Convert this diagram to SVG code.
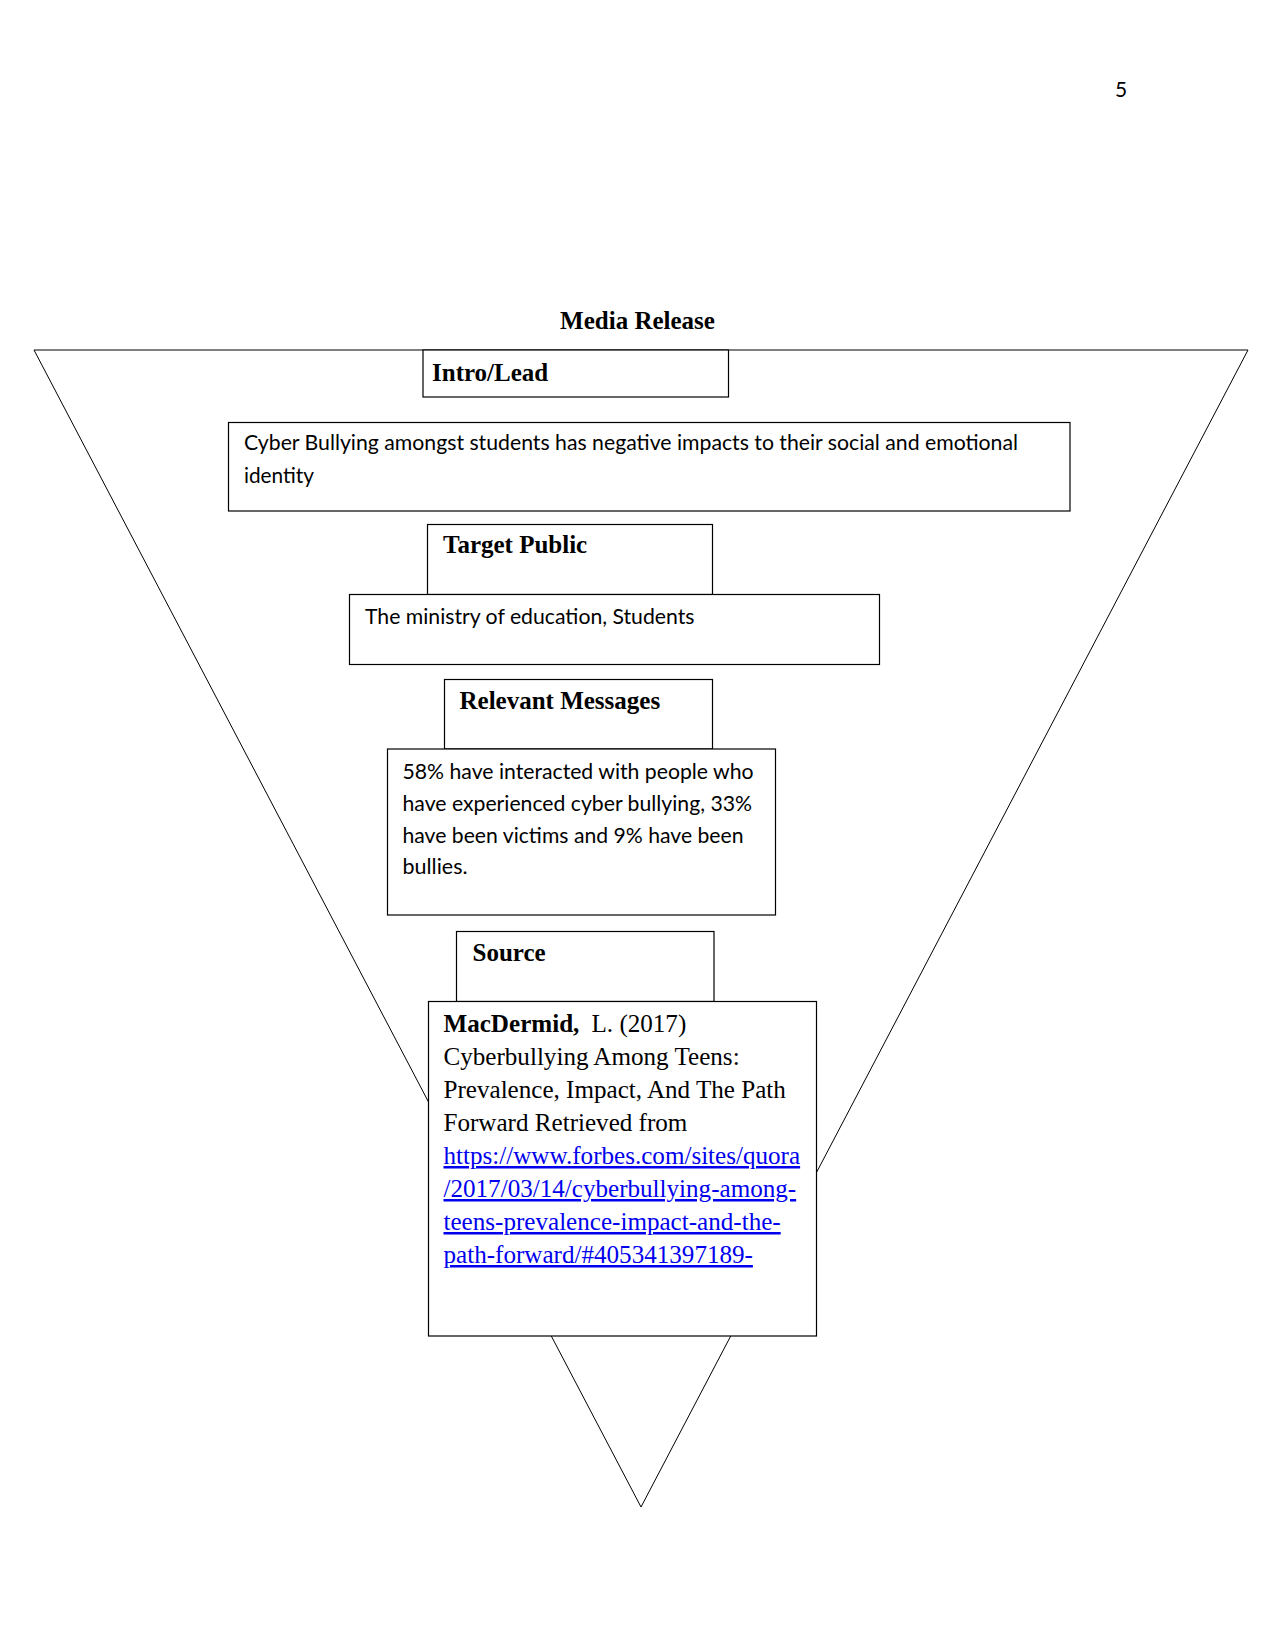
<svg xmlns="http://www.w3.org/2000/svg" width="1275" height="1650" viewBox="0 0 1275 1650">
<style>
.box{fill:#fff;stroke:#000;stroke-width:1.2}
.hd{font-family:"Liberation Serif",serif;font-weight:bold;font-size:25px;fill:#000}
.body{font-family:Lato,"Liberation Sans",sans-serif;font-size:21px;fill:#000}
.cite{font-family:"Liberation Serif",serif;font-size:25.1px;fill:#000}
.link{fill:#0000ee;text-decoration:underline}
</style>
<rect width="1275" height="1650" fill="#fff"/>
<text x="1115" y="97" class="body" font-size="19">5</text>
<text x="637.5" y="329" class="hd" text-anchor="middle">Media Release</text>
<g id="connectors">
<polygon id="funnel" points="34,350 1248,350 641,1507" fill="none" stroke="#000" stroke-width="1"/>
</g>
<g id="intro-lead">
<rect class="box" x="423" y="350" width="305.5" height="47"/>
<text class="hd" x="432" y="381">Intro/Lead</text>
</g>
<g id="intro-text">
<rect class="box" x="228.5" y="422.5" width="841.5" height="88.5"/>
<text class="body" x="244" y="450" textLength="774" lengthAdjust="spacingAndGlyphs">Cyber Bullying amongst students has negative impacts to their social and emotional</text>
<text class="body" x="244" y="482.5" textLength="70" lengthAdjust="spacingAndGlyphs">identity</text>
</g>
<g id="target-public">
<rect class="box" x="427.5" y="524.5" width="285" height="70"/>
<text class="hd" x="443" y="553">Target Public</text>
</g>
<g id="target-text">
<rect class="box" x="349.5" y="594.5" width="530" height="70"/>
<text class="body" x="365" y="624" textLength="329.5" lengthAdjust="spacingAndGlyphs">The ministry of education, Students</text>
</g>
<g id="relevant-messages">
<rect class="box" x="444.5" y="679.5" width="268" height="69.5"/>
<text class="hd" x="459.5" y="708.5">Relevant Messages</text>
</g>
<g id="messages-text">
<rect class="box" x="387.5" y="749" width="388" height="166"/>
<text class="body" x="402.5" y="778.5" textLength="351" lengthAdjust="spacingAndGlyphs">58% have interacted with people who</text>
<text class="body" x="402.5" y="810.5" textLength="349.5" lengthAdjust="spacingAndGlyphs">have experienced cyber bullying, 33%</text>
<text class="body" x="402.5" y="842.5" textLength="341" lengthAdjust="spacingAndGlyphs">have been victims and 9% have been</text>
<text class="body" x="402.5" y="874" textLength="65" lengthAdjust="spacingAndGlyphs">bullies.</text>
</g>
<g id="source">
<rect class="box" x="456.5" y="931.5" width="257.5" height="70"/>
<text class="hd" x="472.5" y="961">Source</text>
</g>
<g id="source-text">
<rect class="box" x="428.5" y="1001.5" width="388" height="334.5"/>
<text class="cite" x="443.5" y="1032"><tspan font-weight="bold">MacDermid,</tspan><tspan x="591.5">L. (2017)</tspan></text>
<text class="cite" x="443.5" y="1065">Cyberbullying Among Teens:</text>
<text class="cite" x="443.5" y="1098">Prevalence, Impact, And The Path</text>
<text class="cite" x="443.5" y="1131">Forward Retrieved from</text>
<text class="cite link" x="443.5" y="1164">https://www.forbes.com/sites/quora</text>
<text class="cite link" x="443.5" y="1197">/2017/03/14/cyberbullying-among-</text>
<text class="cite link" x="443.5" y="1230">teens-prevalence-impact-and-the-</text>
<text class="cite link" x="443.5" y="1263">path-forward/#405341397189-</text>
</g>
</svg>
